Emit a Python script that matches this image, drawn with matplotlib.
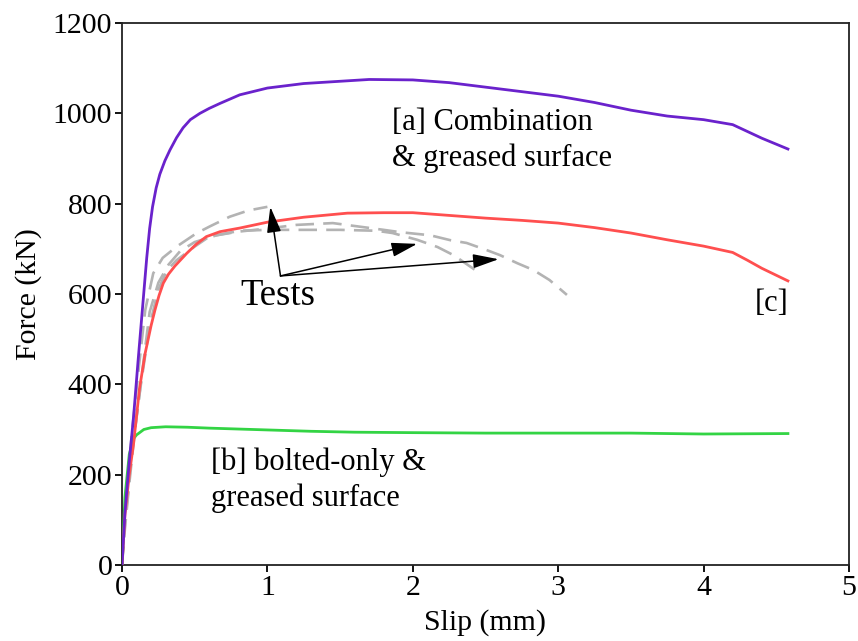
import matplotlib.pyplot as plt

plt.rcParams['font.family'] = ['Liberation Serif', 'DejaVu Serif']

# [a] combination & greased surface
slip_a = [0, 0.02, 0.05, 0.08, 0.11, 0.14, 0.17, 0.19, 0.21, 0.235, 0.26, 0.295, 0.33,
          0.375, 0.42, 0.47, 0.536, 0.6, 0.674, 0.81, 1.0, 1.25, 1.5, 1.7, 2.0, 2.25,
          2.5, 2.75, 3.0, 3.25, 3.5, 3.75, 4.0, 4.2, 4.3, 4.4, 4.58]
force_a = [0, 115, 230, 330, 450, 565, 680, 745, 793, 835, 865, 895, 919,
           946, 968, 986, 1000, 1011, 1022, 1041, 1056, 1066, 1071, 1075, 1074, 1068,
           1058, 1048, 1038, 1024, 1007, 994, 986, 975, 960, 945, 921]

# [b] bolted-only & greased surface
slip_b = [0, 0.02, 0.05, 0.08, 0.1, 0.15, 0.2, 0.3, 0.45, 0.6, 0.8, 1.0, 1.3, 1.6,
          2.0, 2.5, 3.0, 3.5, 4.0, 4.58]
force_b = [0, 150, 245, 280, 288, 300, 304, 306, 305, 303, 301, 299, 296, 294,
           293, 292, 292, 292, 290, 291]

# [c]
slip_c = [0, 0.02, 0.05, 0.08, 0.12, 0.16, 0.2, 0.227, 0.255, 0.284, 0.32, 0.364, 0.445,
          0.51, 0.58, 0.674, 0.81, 1.0, 1.25, 1.55, 1.8, 2.0, 2.25, 2.5, 2.75, 3.0,
          3.25, 3.5, 3.75, 4.0, 4.2, 4.3, 4.4, 4.58]
force_c = [0, 110, 200, 270, 390, 470, 530, 565, 597, 624, 644, 662, 690,
           710, 727, 738, 746, 759, 770, 779, 780, 780, 774, 768, 763, 757,
           747, 735, 720, 706, 692, 675, 657, 629]

# tests
slip_t1 = [0, 0.02, 0.05, 0.08, 0.12, 0.16, 0.215, 0.28, 0.376, 0.51, 0.6, 0.74, 0.87, 1.0]
force_t1 = [0, 120, 230, 330, 450, 565, 646, 680, 705, 734, 749, 771, 785, 793]

slip_t2 = [0, 0.02, 0.05, 0.08, 0.13, 0.19, 0.25, 0.31, 0.376, 0.5, 0.6, 0.81, 1.0, 1.2,
           1.5, 1.75, 1.86, 2.03, 2.17, 2.28, 2.38, 2.43]
force_t2 = [0, 90, 190, 280, 400, 530, 610, 653, 675, 705, 727, 740, 742, 742,
            742, 740, 735, 720, 704, 686, 664, 653]

slip_t3 = [0, 0.02, 0.05, 0.09, 0.14, 0.19, 0.25, 0.32, 0.4, 0.5, 0.65, 0.8, 1.0, 1.2,
           1.45, 1.66, 1.8, 1.91, 2.12, 2.26, 2.37, 2.51, 2.6, 2.72, 2.83, 2.94, 3.06]
force_t3 = [0, 80, 180, 300, 430, 560, 625, 665, 695, 715, 730, 738, 745, 753,
            757, 748, 742, 737, 730, 719, 713, 697, 686, 668, 653, 631, 598]

arrow_base = (1.09, 640)
arrow_tips = [(1.02, 793), (2.03, 711), (2.59, 677)]

fig = plt.figure(figsize=(8.58, 6.41), dpi=100)
ax = fig.add_axes([0.1422, 0.1186, 0.8473, 0.8455])

for s, f in [(slip_t1, force_t1), (slip_t2, force_t2), (slip_t3, force_t3)]:
    ax.plot(s, f, color='#b3b3b3', lw=1.9, dashes=(7, 3.5), zorder=2)

ax.plot(slip_b, force_b, color='#33d444', lw=2, zorder=3)
ax.plot(slip_c, force_c, color='#ff4f4f', lw=2, zorder=3)
ax.plot(slip_a, force_a, color='#6a22cc', lw=2, zorder=3)

for tip in arrow_tips:
    ax.annotate('', xy=tip, xytext=arrow_base,
                arrowprops=dict(arrowstyle='-|>,head_length=1.05,head_width=0.29',
                                color='black', lw=1.1, shrinkA=0, shrinkB=0,
                                mutation_scale=15), zorder=4)

ax.text(1.07, 597, 'Tests', fontsize=26.5, ha='center', va='center')
ax.text(1.86, 940, '[a] Combination\n& greased surface', fontsize=22,
        ha='left', va='center', linespacing=1.3)
ax.text(0.61, 188, '[b] bolted-only &\ngreased surface', fontsize=22,
        ha='left', va='center', linespacing=1.3)
ax.text(4.47, 578, '[c]', fontsize=22, ha='center', va='center')

ax.set_xlim(0, 5)
ax.set_ylim(0, 1200)
ax.set_xticks([0, 1, 2, 3, 4, 5])
ax.set_yticks([0, 200, 400, 600, 800, 1000, 1200])
ax.tick_params(direction='out', length=5, width=1.3, labelsize=21.5, pad=2)
for sp in ax.spines.values():
    sp.set_linewidth(1.3)
    sp.set_color('#222222')

ax.set_xlabel('Slip (mm)', fontsize=21.5, labelpad=6)
ax.set_ylabel('Force (kN)', fontsize=21.5, labelpad=8)

fig.savefig('out.png', dpi=100)
